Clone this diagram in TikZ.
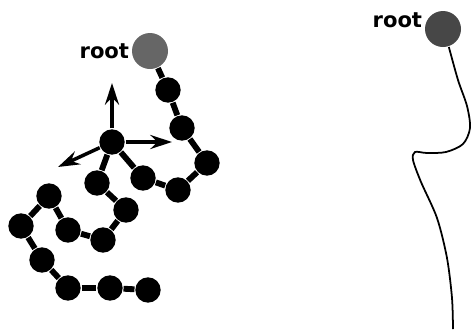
\documentclass[tikz,border=0pt]{standalone}
\usepackage{fontspec}
\newfontfamily\labelfont{DejaVu Sans}
\usetikzlibrary{arrows.meta}

\begin{document}
\begin{tikzpicture}[x=0.03cm,y=-0.03cm,line width=1.5pt,
  >={Stealth[length=6.5mm,width=4.2mm,inset=2.2mm]},
  ball/.style={circle,fill=black,inner sep=0pt,minimum size=0.76cm},
  rootball/.style={circle,inner sep=0pt,minimum size=1.08cm},
  bond/.style={line width=5pt},
  rootlabel/.style={font=\labelfont\bfseries\fontsize{18}{18}\selectfont,inner sep=1pt}]
  \useasboundingbox (0,0) rectangle (471,329);
  % left: chain in the tube
  \node[rootball,fill=gray!80!black] (rootL) at (150,51) {};
  \node[rootlabel,anchor=east] (labL) at (rootL.west) {root};
  \node[ball] (hub) at (112,142) {};
  \foreach \n/\x/\y in {c1/168/90,c2/182/128,c3/207/163,c4/178/190,c5/143/178,
    d1/97/183,d2/126/210,d3/103/240,d4/68/230,d5/49/196,d6/21/226,
    d7/42/260,d8/68/288,d9/110/288,d10/148/290}
    \node[ball] (\n) at (\x,\y) {};
  \foreach \a/\b in {rootL/c1,c1/c2,c2/c3,c3/c4,c4/c5,c5/hub,
    hub/d1,d1/d2,d2/d3,d3/d4,d4/d5,d5/d6,d6/d7,d7/d8,d8/d9,d9/d10}
    \draw[bond] (\a) -- (\b);
  \coordinate (up) at (112,83);
  \coordinate (rt) at (172,142);
  \coordinate (lf) at (58,167);
  \foreach \t in {up,rt,lf}
    \draw[->,line width=3pt] (hub) -- (\t);
  % right: tether
  \node[rootball,fill=black!72] (rootR) at (443,29) {};
  \node[rootlabel,anchor=east] (labR) at ([yshift=0.25cm]rootR.west) {root};
  \coordinate (tend) at (453,329);
  \draw plot[smooth,tension=0.5] coordinates {(rootR.-72)(458,80)(467,106)(470,128)
    (463,144)(446,152)(427,153)(415,152)(413,160)(421,182)(437,218)(447,258)(452,298)(tend)};
\end{tikzpicture}
\end{document}
